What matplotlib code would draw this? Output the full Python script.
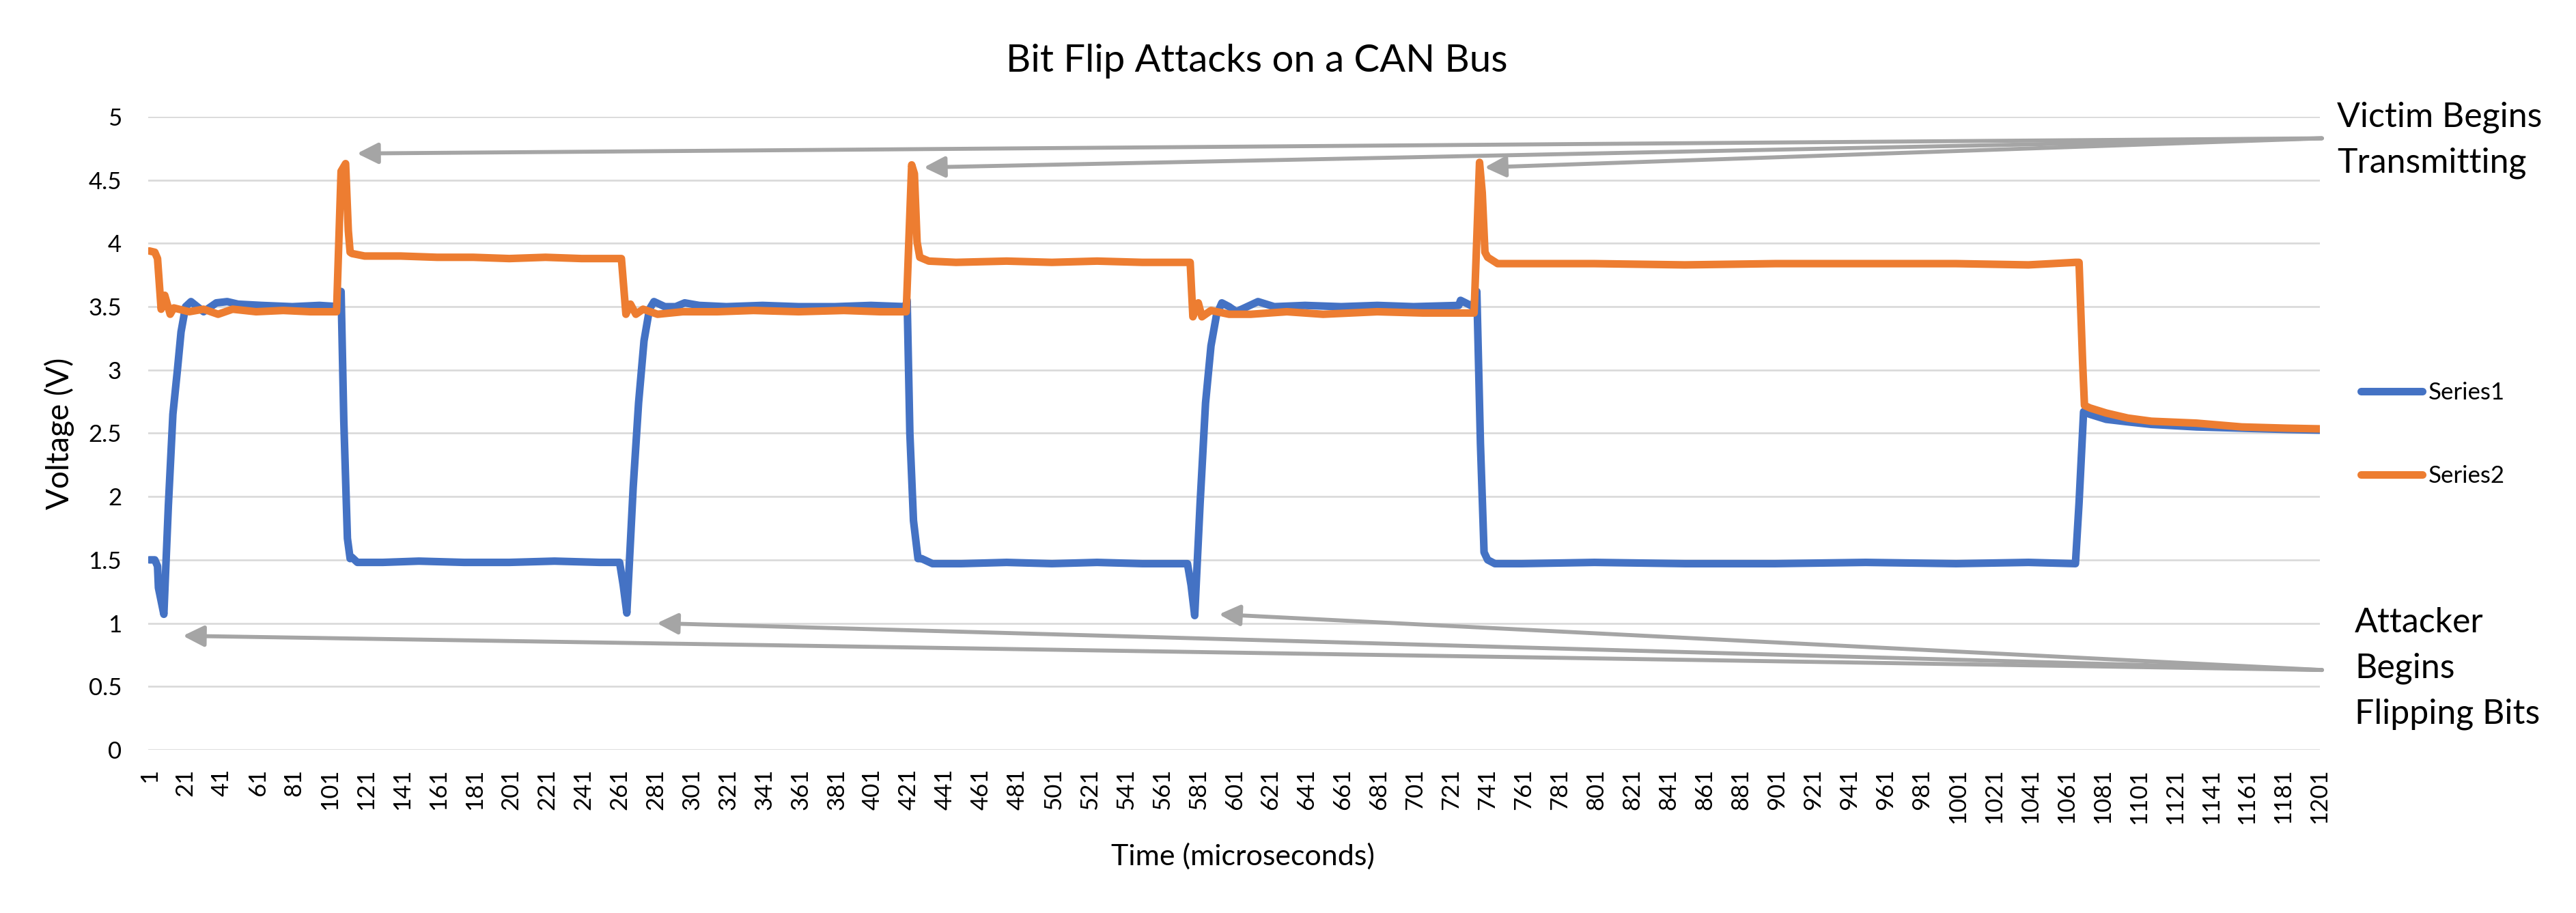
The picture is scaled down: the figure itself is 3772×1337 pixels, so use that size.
import matplotlib
matplotlib.use("Agg")
import matplotlib.pyplot as plt

# Series1 (blau)
t_s1 = [1, 4, 5.5, 6, 9, 11.5, 14, 16.5, 18.5, 21, 24, 31, 38, 44, 50, 63, 80, 95, 106,
        107, 108.5, 110.5, 112, 113, 116, 130, 150, 175, 200, 225, 250, 261,
        263, 265, 268.5, 271.5, 274.5, 277.5, 280, 286, 292, 297, 305, 320, 340, 360, 380, 400, 419,
        420, 421.5, 423.5, 426, 428, 434, 450, 475, 500, 525, 550, 575,
        577, 579, 582, 585, 588, 591, 594, 598, 602, 608, 614, 623, 640, 660, 680, 700, 725, 726, 733,
        735, 737, 739, 741, 745, 760, 800, 850, 900, 950, 1000, 1040, 1066,
        1068, 1070.5, 1074, 1083, 1095, 1108, 1133, 1158, 1183, 1201]
v_s1 = [1.50, 1.50, 1.45, 1.28, 1.07, 1.93, 2.65, 3.00, 3.30, 3.50, 3.54, 3.46, 3.53, 3.54, 3.52, 3.51, 3.50, 3.51, 3.50,
        3.62, 2.60, 1.67, 1.51, 1.52, 1.48, 1.48, 1.49, 1.48, 1.48, 1.49, 1.48, 1.48,
        1.30, 1.08, 2.07, 2.74, 3.23, 3.48, 3.54, 3.50, 3.50, 3.53, 3.51, 3.50, 3.51, 3.50, 3.50, 3.51, 3.50,
        3.55, 2.50, 1.81, 1.51, 1.51, 1.47, 1.47, 1.48, 1.47, 1.48, 1.47, 1.47,
        1.30, 1.06, 1.95, 2.74, 3.19, 3.43, 3.53, 3.50, 3.46, 3.50, 3.54, 3.50, 3.51, 3.50, 3.51, 3.50, 3.51, 3.55, 3.50,
        3.62, 2.42, 1.56, 1.50, 1.47, 1.47, 1.48, 1.47, 1.47, 1.48, 1.47, 1.48, 1.47,
        1.95, 2.67, 2.65, 2.61, 2.59, 2.57, 2.55, 2.54, 2.53, 2.525]

# Series2 (orange)
t_s2 = [1, 4, 5.5, 7.5, 9.5, 12.5, 14.5, 23, 31, 39, 47, 60, 75, 90, 104.5,
        107, 109.5, 111, 112, 113, 120, 140, 160, 180, 200, 220, 240, 262,
        264.5, 267, 270, 274, 282, 296, 315, 335, 360, 385, 405, 419.5,
        422.5, 424, 425.5, 427, 432, 447, 475, 500, 525, 550, 576.5,
        578, 581, 583, 588, 598, 610, 630, 650, 680, 705, 733.5,
        736.5, 738, 739.5, 741, 746.5, 760, 800, 850, 900, 950, 1000, 1040, 1066, 1068,
        1070, 1071, 1074, 1083, 1095, 1108, 1133, 1158, 1183, 1201]
v_s2 = [3.94, 3.93, 3.88, 3.48, 3.59, 3.44, 3.49, 3.46, 3.48, 3.44, 3.48, 3.46, 3.47, 3.46, 3.46,
        4.57, 4.63, 4.10, 3.93, 3.92, 3.90, 3.90, 3.89, 3.89, 3.88, 3.89, 3.88, 3.88,
        3.44, 3.52, 3.44, 3.48, 3.44, 3.46, 3.46, 3.47, 3.46, 3.47, 3.46, 3.46,
        4.62, 4.55, 4.01, 3.89, 3.86, 3.85, 3.86, 3.85, 3.86, 3.85, 3.85,
        3.42, 3.53, 3.42, 3.47, 3.44, 3.44, 3.46, 3.44, 3.46, 3.45, 3.45,
        4.64, 4.40, 3.93, 3.89, 3.84, 3.84, 3.84, 3.83, 3.84, 3.84, 3.84, 3.83, 3.85, 3.85,
        3.05, 2.72, 2.70, 2.66, 2.62, 2.595, 2.58, 2.55, 2.54, 2.535]

# x-Achse: Kategorien 1, 21, ..., 1201
x_ticks = list(range(1, 1202, 20))
y_ticks = [0, 0.5, 1, 1.5, 2, 2.5, 3, 3.5, 4, 4.5, 5]

# Pfeile (Spitze, Ende) in Datenkoordinaten
victim_tips = [(115.8, 4.71), (429.2, 4.60), (739.3, 4.60)]
victim_tail = (1202.3, 4.83)
attacker_tips = [(19.5, 0.90), (281.6, 1.00), (592.4, 1.07)]
attacker_tail = (1202.3, 0.63)

blau = "#4472c4"
orange = "#ed7d31"
grau = "#a5a5a5"

plt.rcParams["font.family"] = ["Lato", "DejaVu Sans"]

fig = plt.figure(figsize=(37.72, 13.37), dpi=100)
ax = fig.add_axes([0.0575, 0.1788, 0.9006 - 0.0575, 0.8721 - 0.1788])

# Gitter und Achsen
ax.set_xlim(0.3, 1201.2)
ax.set_ylim(0, 5)
ax.set_yticks(y_ticks)
ax.set_yticklabels([f"{y:g}" for y in y_ticks])
ax.set_xticks(x_ticks)
ax.set_xticklabels([str(x) for x in x_ticks], rotation=90)
ax.grid(axis="y", color="#d9d9d9", lw=1.9)
ax.set_axisbelow(True)
for s in ax.spines.values():
    s.set_visible(False)
ax.tick_params(axis="both", length=0, labelsize=25)
ax.tick_params(axis="x", pad=20)
ax.tick_params(axis="y", pad=28)

# Kurven
ax.plot(t_s1, v_s1, color=blau, lw=8, solid_capstyle="round",
        solid_joinstyle="round", label="Series1", zorder=3)
ax.plot(t_s2, v_s2, color=orange, lw=8, solid_capstyle="round",
        solid_joinstyle="round", label="Series2", zorder=4)

# Beschriftungen
fig.suptitle("Bit Flip Attacks on a CAN Bus", x=0.4878, y=0.9334, va="center", fontsize=40.5)
ax.set_ylabel("Voltage (V)", fontsize=33)
ax.yaxis.set_label_coords(-0.0409, 0.5)
ax.yaxis.label.set_va("center")
ax.set_xlabel("Time (microseconds)", fontsize=31)
ax.xaxis.set_label_coords(0.504, -0.168)
ax.xaxis.label.set_va("center")

# Legende
ax.legend(loc="center left", bbox_to_anchor=(0.9165, 0.5243), bbox_transform=fig.transFigure,
          frameon=False, fontsize=25, handlelength=2.6, handletextpad=0.25,
          labelspacing=2.6, borderpad=0, borderaxespad=0)

# Pfeile
pfeil = dict(arrowstyle="-|>,head_length=0.4,head_width=0.2", color=grau, lw=4.2,
             mutation_scale=46, shrinkA=0, shrinkB=0)
for tip in victim_tips:
    ax.annotate("", xy=tip, xytext=victim_tail, arrowprops=pfeil, annotation_clip=False, zorder=5)
for tip in attacker_tips:
    ax.annotate("", xy=tip, xytext=attacker_tail, arrowprops=pfeil, annotation_clip=False, zorder=5)

fig.text(0.9072, 0.889, "Victim Begins\nTransmitting", fontsize=36, va="top", ha="left",
         linespacing=1.55)
fig.text(0.9141, 0.335, "Attacker\nBegins\nFlipping Bits", fontsize=36, va="top", ha="left",
         linespacing=1.55)

fig.savefig("out.png", dpi=100)
